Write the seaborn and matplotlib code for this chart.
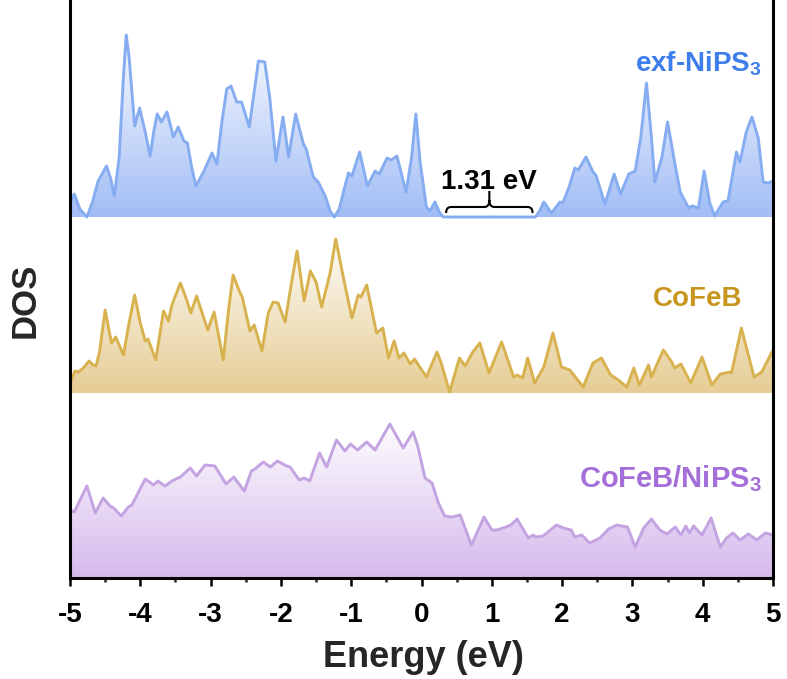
import numpy as np
import pandas as pd
import matplotlib
matplotlib.use("Agg")
import matplotlib.pyplot as plt
import seaborn as sns
from matplotlib.colors import LinearSegmentedColormap
from matplotlib.path import Path
from matplotlib.patches import PathPatch

# ---------------- data ----------------
nips3_energy = [-5.00, -4.94, -4.86, -4.76, -4.68, -4.60, -4.48, -4.42, -4.37, -4.30,
                -4.24, -4.20, -4.16, -4.08, -4.01, -3.93, -3.86, -3.81, -3.76, -3.70,
                -3.62, -3.53, -3.46, -3.38, -3.33, -3.27, -3.21, -3.10, -2.98, -2.91,
                -2.84, -2.77, -2.71, -2.63, -2.56, -2.45, -2.38, -2.32, -2.23, -2.16,
                -2.07, -1.97, -1.89, -1.79, -1.68, -1.64, -1.54, -1.47, -1.37, -1.30,
                -1.24, -1.17, -1.11, -1.04, -0.99, -0.88, -0.77, -0.66, -0.60, -0.49,
                -0.43, -0.35, -0.22, -0.14, -0.08, -0.02, 0.07, 0.12, 0.19, 0.26,
                0.31, 1.62, 1.68, 1.74, 1.85, 1.97, 2.01, 2.10, 2.18, 2.23,
                2.34, 2.44, 2.48, 2.61, 2.74, 2.83, 2.95, 3.04, 3.12, 3.20,
                3.27, 3.32, 3.42, 3.50, 3.60, 3.68, 3.80, 3.85, 3.94, 4.02,
                4.10, 4.17, 4.29, 4.36, 4.48, 4.53, 4.62, 4.70, 4.79, 4.86,
                4.93, 5.00]
nips3_dos = [14, 23, 8, 0, 15, 36, 51, 38, 21, 60,
             140, 182, 160, 91, 109, 85, 61, 85, 103, 95,
             105, 80, 90, 76, 74, 50, 31, 45, 64, 53,
             95, 128, 131, 115, 115, 90, 125, 156, 155, 120,
             56, 100, 60, 103, 73, 68, 40, 35, 21, 6,
             0, 8, 25, 44, 41, 65, 31, 46, 43, 59,
             57, 61, 25, 60, 103, 55, 10, 6, 15, 4,
             0, 0, 6, 15, 4, 15, 14, 30, 49, 47,
             60, 45, 42, 13, 43, 23, 43, 46, 80, 134,
             80, 35, 60, 95, 55, 25, 9, 11, 9, 46,
             14, 1, 15, 16, 65, 55, 85, 100, 79, 35,
             34, 36]

cofeb_energy = [-5.00, -4.93, -4.88, -4.81, -4.73, -4.67, -4.63, -4.58, -4.50, -4.41,
                -4.35, -4.24, -4.16, -4.08, -4.00, -3.93, -3.89, -3.78, -3.67, -3.60,
                -3.55, -3.43, -3.35, -3.28, -3.20, -3.12, -3.04, -2.95, -2.82, -2.75,
                -2.68, -2.58, -2.55, -2.44, -2.38, -2.27, -2.18, -2.11, -2.04, -1.94,
                -1.85, -1.77, -1.67, -1.58, -1.50, -1.42, -1.30, -1.22, -1.11, -0.99,
                -0.90, -0.86, -0.78, -0.64, -0.55, -0.47, -0.39, -0.32, -0.25, -0.16,
                -0.10, 0.07, 0.22, 0.28, 0.40, 0.54, 0.62, 0.73, 0.83, 0.96,
                1.14, 1.31, 1.36, 1.44, 1.51, 1.61, 1.74, 1.87, 1.99, 2.11,
                2.30, 2.44, 2.56, 2.69, 2.80, 2.92, 3.02, 3.10, 3.23, 3.27,
                3.44, 3.56, 3.60, 3.69, 3.83, 3.99, 4.13, 4.25, 4.39, 4.41,
                4.55, 4.73, 4.84, 5.00]
cofeb_dos = [10, 22, 21, 25, 32, 28, 27, 41, 83, 50,
             56, 38, 70, 98, 70, 52, 54, 33, 82, 72,
             88, 110, 95, 80, 97, 80, 63, 81, 33, 80,
             118, 100, 96, 62, 68, 42, 80, 91, 90, 71,
             110, 142, 92, 122, 111, 86, 120, 154, 115, 75,
             98, 96, 108, 60, 65, 35, 52, 35, 40, 29,
             34, 16, 41, 30, 1, 35, 27, 41, 50, 20,
             51, 16, 18, 15, 35, 10, 26, 60, 26, 23,
             6, 30, 35, 18, 13, 6, 25, 8, 28, 16,
             43, 31, 25, 29, 10, 36, 8, 19, 21, 20,
             65, 16, 21, 43]

hetero_energy = [-5.00, -4.94, -4.76, -4.64, -4.53, -4.43, -4.38, -4.27, -4.17, -4.12,
                 -3.93, -3.81, -3.75, -3.65, -3.55, -3.43, -3.29, -3.20, -3.08, -2.94,
                 -2.78, -2.67, -2.52, -2.42, -2.37, -2.25, -2.15, -2.05, -1.92, -1.87,
                 -1.74, -1.67, -1.59, -1.45, -1.35, -1.21, -1.09, -1.01, -0.91, -0.78,
                 -0.66, -0.45, -0.26, -0.12, -0.05, 0.05, 0.15, 0.24, 0.33, 0.43,
                 0.55, 0.71, 0.89, 1.00, 1.07, 1.20, 1.27, 1.36, 1.52, 1.59,
                 1.62, 1.73, 1.92, 2.02, 2.13, 2.18, 2.28, 2.39, 2.54, 2.66,
                 2.78, 2.85, 2.93, 3.04, 3.16, 3.27, 3.39, 3.49, 3.61, 3.69,
                 3.76, 3.81, 3.87, 3.99, 4.12, 4.25, 4.34, 4.43, 4.53, 4.65,
                 4.77, 4.89, 5.00]
hetero_dos = [68, 66, 92, 65, 80, 72, 70, 62, 71, 73,
              99, 93, 97, 92, 97, 101, 110, 102, 113, 112,
              94, 101, 87, 107, 109, 116, 111, 117, 112, 111,
              98, 100, 97, 125, 111, 138, 127, 134, 128, 136,
              128, 154, 130, 146, 131, 100, 95, 75, 62, 61,
              63, 33, 61, 48, 48, 51, 53, 59, 40, 43,
              41, 42, 53, 50, 48, 41, 43, 35, 40, 49,
              53, 52, 51, 31, 50, 59, 48, 44, 51, 43,
              52, 45, 52, 43, 60, 31, 40, 45, 38, 44,
              38, 45, 43]

# band edges of the exfoliated flake
nips3_vbm = 0.31
nips3_cbm = 1.62

energy_ticks = [-5, -4, -3, -2, -1, 0, 1, 2, 3, 4, 5]

# vertical offsets of the stacked curves
offsets = {"exf-NiPS3": 361, "CoFeB": 185, "CoFeB/NiPS3": 0}

# ---------------- style ----------------
sns.set_theme(style="ticks")
plt.rcParams["font.family"] = ["Liberation Sans", "DejaVu Sans"]
plt.rcParams["font.weight"] = "bold"
plt.rcParams["axes.unicode_minus"] = False
plt.rcParams["mathtext.fontset"] = "custom"
plt.rcParams["mathtext.rm"] = "Liberation Sans:bold"
plt.rcParams["mathtext.bf"] = "Liberation Sans:bold"
plt.rcParams["mathtext.default"] = "rm"

W, H = 787, 679
fig = plt.figure(figsize=(W / 100, H / 100), dpi=100)
ax = fig.add_axes([70 / W, 101 / H, 703 / W, 578 / H])

series = [
    ("exf-NiPS3", nips3_energy, nips3_dos, "#86adf1", "#a2bdf5", 190, "#3d7eec",
     r"exf-NiPS$_3$", 4.84, 506, 20),
    ("CoFeB", cofeb_energy, cofeb_dos, "#d8b24f", "#e6cd95", 165, "#c8961e",
     "CoFeB", 4.56, 272, 20),
    ("CoFeB/NiPS3", hetero_energy, hetero_dos, "#c4a3e2", "#d5b9ec", 160, "#a46fd8",
     r"CoFeB/NiPS$_3$", 4.84, 91, 21),
]

for name, e, d, line_c, fill_c, top, text_c, label, lx, ly, fs in series:
    base = offsets[name]
    df = pd.DataFrame({"Energy": e, "DOS": np.asarray(d, float) + base})
    sns.lineplot(data=df, x="Energy", y="DOS", ax=ax, color=line_c, lw=2.1,
                 sort=False, zorder=4, solid_joinstyle="round")
    poly = ax.fill_between(df["Energy"], base, df["DOS"], color="none", lw=0)
    cmap = LinearSegmentedColormap.from_list(name, [fill_c, "#ffffff"])
    grad = np.linspace(0, 1, 256).reshape(-1, 1)
    im = ax.imshow(grad, cmap=cmap, origin="lower", aspect="auto",
                   extent=[-5, 5, base, base + top], zorder=2, interpolation="bilinear")
    im.set_clip_path(poly.get_paths()[0], transform=ax.transData)
    ax.text(lx, ly, label, color=text_c, fontsize=fs, fontweight="bold",
            ha="right", va="baseline", zorder=5)

# band-gap brace
base = offsets["exf-NiPS3"]
x0, x1 = nips3_vbm + 0.04, nips3_cbm - 0.04
xm = 0.5 * (x0 + x1)
y_end, y_bar, y_tip = base + 4, base + 10, base + 26
dx = 0.07
verts = [(x0, y_end), (x0, y_bar), (x0 + dx, y_bar), (xm - dx, y_bar),
         (xm, y_bar), (xm, y_bar + 7), (xm, y_tip),
         (xm, y_bar + 7), (xm, y_bar), (xm + dx, y_bar), (x1 - dx, y_bar),
         (x1, y_bar), (x1, y_end)]
codes = [Path.MOVETO, Path.CURVE3, Path.CURVE3, Path.LINETO,
         Path.CURVE3, Path.CURVE3, Path.LINETO,
         Path.MOVETO, Path.CURVE3, Path.CURVE3, Path.LINETO,
         Path.CURVE3, Path.CURVE3]
ax.add_patch(PathPatch(Path(verts, codes), fc="none", ec="black", lw=1.5, zorder=5))
ax.text(xm, base + 28, f"{nips3_cbm - nips3_vbm:.2f} eV", fontsize=20,
        fontweight="bold", ha="center", va="baseline", color="black", zorder=5)

# ---------------- axes ----------------
ax.set_xlim(-5, 5)
ax.set_ylim(0, 578)
ax.set_xticks(energy_ticks)
ax.set_xticks(np.arange(-4.5, 5, 1.0), minor=True)
ax.set_yticks([])
ax.set_xlabel("")
ax.set_ylabel("")
ax.tick_params(axis="x", which="major", direction="out", length=6, width=1.8,
               labelsize=20, pad=11, colors="black")
ax.tick_params(axis="x", which="minor", direction="out", length=3, width=1.8)
for lbl in ax.get_xticklabels():
    lbl.set_fontweight("bold")
for side in ["left", "right", "bottom"]:
    ax.spines[side].set_linewidth(2.2)
    ax.spines[side].set_color("black")
    ax.spines[side].set_zorder(6)
ax.spines["top"].set_visible(False)

fig.text(423 / W, 1 - 667 / H, "Energy (eV)", fontsize=26, fontweight="bold",
         ha="center", va="baseline")
fig.text(25 / W, 1 - 300 / H, "DOS", fontsize=25, fontweight="bold",
         ha="center", va="center", rotation=90)

fig.savefig("out.png", dpi=100)
